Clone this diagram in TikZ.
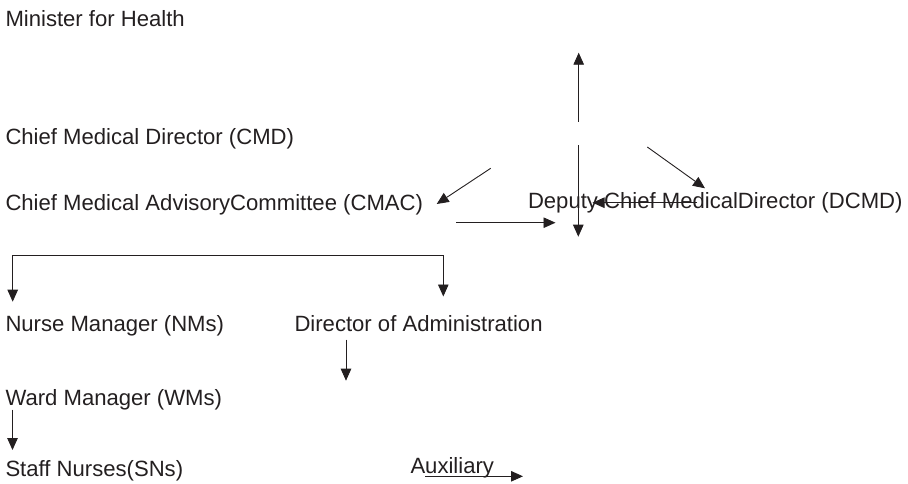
\documentclass[tikz,border=0pt]{standalone}
\usepackage{fontspec}
\setmainfont{Liberation Sans}
\usetikzlibrary{arrows.meta}
\definecolor{ink}{RGB}{35,31,32}
\tikzset{
  lbl/.style={anchor=base west, inner sep=0pt, outer sep=0pt, text=ink,
    font=\fontsize{22.1}{26}\selectfont},
  tip/.tip={Triangle[length=12pt,width=10.5pt]},
  arr/.style={draw=ink, line width=0.9pt, -tip},
  arrboth/.style={draw=ink, line width=0.9pt, tip-tip},
}
\begin{document}
\begin{tikzpicture}[x=1pt,y=-1pt]
\useasboundingbox (0,0) rectangle (908,483);
% texts
\node[lbl] (min)  at (5.5,26)    {Minister for Health};
\node[lbl] (cmd)  at (5.5,144)   {Chief Medical Director (CMD)};
\node[lbl] (cmac) at (5.5,210.5) {Chief Medical AdvisoryCommittee (CMAC)};
\node[lbl] (dcmd) at (528,208.3) {Deputy Chief MedicalDirector (DCMD)};
\node[lbl] (nm)   at (5.5,331)   {Nurse Manager (NMs)};
\node[lbl] (doa)  at (294.5,331) {Director of Administration};
\node[lbl] (wm)   at (5.5,405.7) {Ward Manager (WMs)};
\node[lbl] (sn)   at (5.5,476.5) {Staff Nurses(SNs)};
\node[lbl] (aux)  at (410.5,473.5) {Auxiliary};
% free ends
\coordinate (upB) at (578.7,121.7);
\coordinate (upT) at (578.7,52.7);
\coordinate (dnT) at (578.3,145);
\coordinate (dnB) at (578.3,236.7);
\coordinate (cmacS) at (490.7,168.3);
\coordinate (cmacE) at (436.7,204);
\coordinate (dcmdS) at (647.3,147);
\coordinate (dcmdE) at (705,188.3);
\coordinate (hS) at (456,222.7);
\coordinate (hE) at (555.5,222.7);
\coordinate (lS) at (697,202.7);
\coordinate (lE) at (592.5,202.7);
\coordinate (brL) at (12.7,301.7);
\coordinate (brTL) at (12.7,255.5);
\coordinate (brTR) at (443.3,255.5);
\coordinate (brR) at (443.3,296.5);
\coordinate (doaS) at (346,339.5);
\coordinate (doaE) at (346,380.7);
\coordinate (wmS) at (12.5,409.5);
\coordinate (wmE) at (12.5,450);
\coordinate (auxS) at (425,476.3);
\coordinate (auxE) at (523,476.3);
% connectors
\draw[arr] (upB) -- (upT);
\draw[arr] (dnT) -- (dnB);
\draw[arr] (cmacS) -- (cmacE);
\draw[arr] (dcmdS) -- (dcmdE);
\draw[arr] (hS) -- (hE);
\draw[arr] (lS) -- (lE);
\draw[arrboth] (brL) -- (brTL) -- (brTR) -- (brR);
\draw[arr] (doaS) -- (doaE);
\draw[arr] (wmS) -- (wmE);
\draw[arr] (auxS) -- (auxE);
\end{tikzpicture}
\end{document}
